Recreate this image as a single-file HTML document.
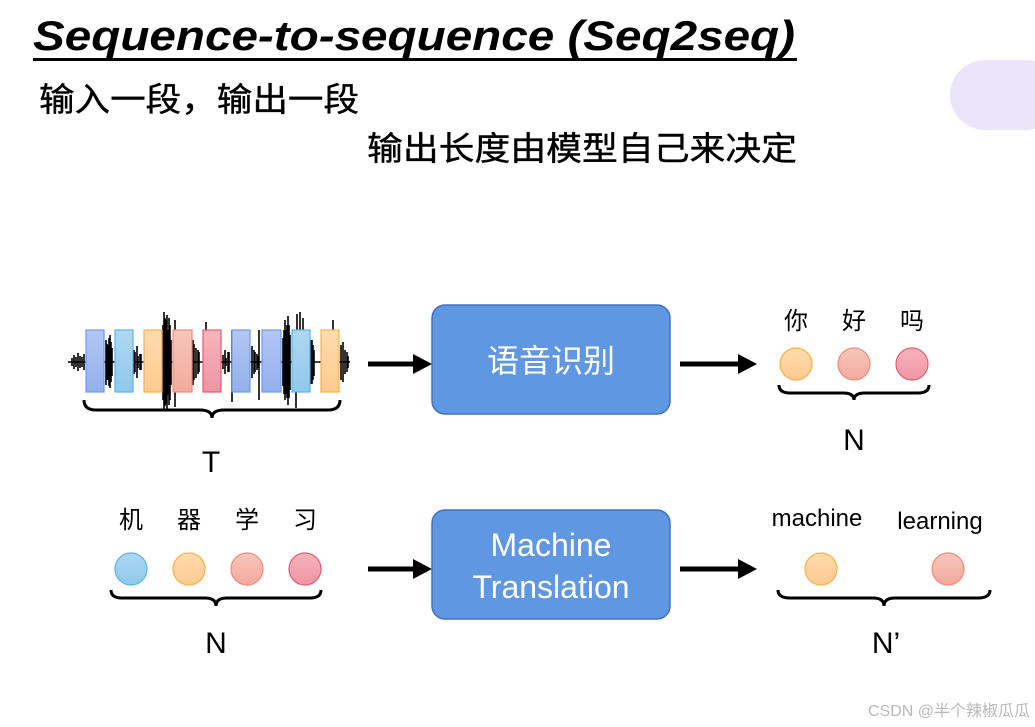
<!DOCTYPE html>
<html><head><meta charset="utf-8"><style>
html,body{margin:0;padding:0;background:#fff;}
svg{display:block;}
text{font-family:"Liberation Sans","Noto Sans CJK SC",sans-serif;}
</style></head><body>
<svg width="1035" height="727" viewBox="0 0 1035 727" xmlns="http://www.w3.org/2000/svg">
<defs>
<linearGradient id="gB" x1="0" y1="0" x2="0" y2="1"><stop offset="0" stop-color="#b4c7f2"/><stop offset="1" stop-color="#93b0ec"/></linearGradient>
<linearGradient id="gL" x1="0" y1="0" x2="0" y2="1"><stop offset="0" stop-color="#afd8f0"/><stop offset="1" stop-color="#8fc8ec"/></linearGradient>
<linearGradient id="gO" x1="0" y1="0" x2="0" y2="1"><stop offset="0" stop-color="#ffdcae"/><stop offset="1" stop-color="#fdca90"/></linearGradient>
<linearGradient id="gS" x1="0" y1="0" x2="0" y2="1"><stop offset="0" stop-color="#f8c6bc"/><stop offset="1" stop-color="#f2a99e"/></linearGradient>
<linearGradient id="gP" x1="0" y1="0" x2="0" y2="1"><stop offset="0" stop-color="#f7b4be"/><stop offset="1" stop-color="#ee95a4"/></linearGradient>
</defs>
<rect x="950" y="60" width="110" height="70" rx="35" fill="#ece4f8"/>
<text x="33" y="50" font-size="42" font-weight="bold" font-style="italic" textLength="762" lengthAdjust="spacingAndGlyphs">Sequence-to-sequence (Seq2seq)</text>
<rect x="33" y="58" width="764" height="3" fill="#000"/>
<text x="39" y="111" font-size="33" textLength="320" lengthAdjust="spacingAndGlyphs" stroke="#000" stroke-width="0.4">输入一段，输出一段</text>
<text x="367" y="160" font-size="33" textLength="430" lengthAdjust="spacingAndGlyphs" stroke="#000" stroke-width="0.4">输出长度由模型自己来决定</text>

<!-- waveform -->
<g stroke="#000" stroke-width="1.6">
<path d="M68 362H350"/>
<path d="M72 358V366M74 355V369M76 357V367M78 353V371M80 356V368M82 357V367M84 354V370M106 340V385M107 344V380M108 345V380M109 338V386M110 335V388M111 342V382M112 348V376M134 350V374M135 352V372M137 346V378M138 356V368M140 354V370M141 354V370M163 325V400M164 312V410M165 318V406M166 320V404M167 315V409M168 330V395M169 318V405M170 325V400M171 340V385M193 340V385M194 344V380M196 348V378M198 350V374M199 352V372M223 355V369M225 350V374M226 358V366M228 352V372M229 352V372M252 346V378M254 350V374M255 352V372M257 354V370M258 356V368M283 338V386M284 330V394M285 320V400M286 330V394M287 325V398M288 316V405M289 325V398M290 335V390M311 340V384M312 340V384M313 345V380M314 350V376M341 345V380M343 342V382M345 350V374M347 352V372M348 356V368"/>
<path d="M175 320V407M206 322V330M232 330V402M259 330V400M297 314V330M300 312V330M303 318V330M296 392V408M333 320V330"/>
</g>
<g stroke-width="1.2">
<rect x="86" y="330" width="18" height="62" fill="url(#gB)" stroke="#6d9af0"/>
<rect x="115" y="330" width="18" height="62" fill="url(#gL)" stroke="#5bb3ea"/>
<rect x="144" y="330" width="18" height="62" fill="url(#gO)" stroke="#f9b04c"/>
<rect x="173" y="330" width="19" height="62" fill="url(#gS)" stroke="#f08c78"/>
<rect x="203" y="330" width="18" height="62" fill="url(#gP)" stroke="#e65c72"/>
<rect x="232" y="330" width="18" height="62" fill="url(#gB)" stroke="#6d9af0"/>
<rect x="262" y="330" width="19" height="62" fill="url(#gB)" stroke="#6d9af0"/>
<rect x="292" y="330" width="18" height="62" fill="url(#gL)" stroke="#5bb3ea"/>
<rect x="321" y="330" width="18" height="62" fill="url(#gO)" stroke="#f9b04c"/>
</g>
<g fill="none" stroke="#000" stroke-width="3">
<path d="M84 400 Q84 410 96 410 H200 Q212 410 212 418 Q212 410 224 410 H328 Q340 410 340 400"/>
<path d="M779 385 Q779 393 790 393 H843 Q854 393 854 400 Q854 393 865 393 H918 Q929 393 929 385"/>
<path d="M111 590 Q111 598 122 598 H205 Q216 598 216 606 Q216 598 227 598 H310 Q321 598 321 590"/>
<path d="M778 590 Q778 598 790 598 H873 Q884 598 884 606 Q884 598 895 598 H978 Q990 598 990 590"/>
</g>
<text x="211" y="472" font-size="30" text-anchor="middle">T</text>
<text x="854" y="450" font-size="30" text-anchor="middle">N</text>
<text x="216" y="653" font-size="30" text-anchor="middle">N</text>
<text x="886" y="653" font-size="30" text-anchor="middle">N’</text>

<g stroke="#000" stroke-width="5">
<line x1="368" y1="364" x2="415" y2="364"/>
<line x1="680" y1="364" x2="740" y2="364"/>
<line x1="368" y1="569" x2="415" y2="569"/>
<line x1="680" y1="569" x2="740" y2="569"/>
</g>
<g fill="#000">
<path d="M413 354L432 364L413 374z"/>
<path d="M738 354L757 364L738 374z"/>
<path d="M413 559L432 569L413 579z"/>
<path d="M738 559L757 569L738 579z"/>
</g>

<rect x="432" y="305" width="238" height="109" rx="13" fill="#6097e3" stroke="#3f72c4" stroke-width="1.5"/>
<text x="551" y="372" font-size="32" fill="#fff" text-anchor="middle">语音识别</text>
<rect x="432" y="510" width="238" height="109" rx="13" fill="#6097e3" stroke="#3f72c4" stroke-width="1.5"/>
<text x="551" y="556" font-size="32" fill="#fff" text-anchor="middle">Machine</text>
<text x="551" y="598" font-size="32" fill="#fff" text-anchor="middle">Translation</text>

<g font-size="24" text-anchor="middle">
<text x="796" y="329">你</text><text x="854" y="329">好</text><text x="912" y="329">吗</text>
<text x="131" y="528">机</text><text x="189" y="528">器</text><text x="247" y="528">学</text><text x="305" y="528">习</text>
</g>
<text x="817" y="526" font-size="24" text-anchor="middle">machine</text>
<text x="940" y="529" font-size="24" text-anchor="middle">learning</text>

<g stroke-width="1.2">
<circle cx="796" cy="364" r="16" fill="url(#gO)" stroke="#f9b04c"/>
<circle cx="854" cy="364" r="16" fill="url(#gS)" stroke="#f08c78"/>
<circle cx="912" cy="364" r="16" fill="url(#gP)" stroke="#e65c72"/>
<circle cx="131" cy="569" r="16" fill="url(#gL)" stroke="#5bb3ea"/>
<circle cx="189" cy="569" r="16" fill="url(#gO)" stroke="#f9b04c"/>
<circle cx="247" cy="569" r="16" fill="url(#gS)" stroke="#f08c78"/>
<circle cx="305" cy="569" r="16" fill="url(#gP)" stroke="#e65c72"/>
<circle cx="821" cy="569" r="16" fill="url(#gO)" stroke="#f9b04c"/>
<circle cx="948" cy="569" r="16" fill="url(#gS)" stroke="#f08c78"/>
</g>
<text x="1030" y="716" font-size="16" fill="#b8b8b8" text-anchor="end">CSDN @半个辣椒瓜瓜</text>
</svg>
</body></html>
